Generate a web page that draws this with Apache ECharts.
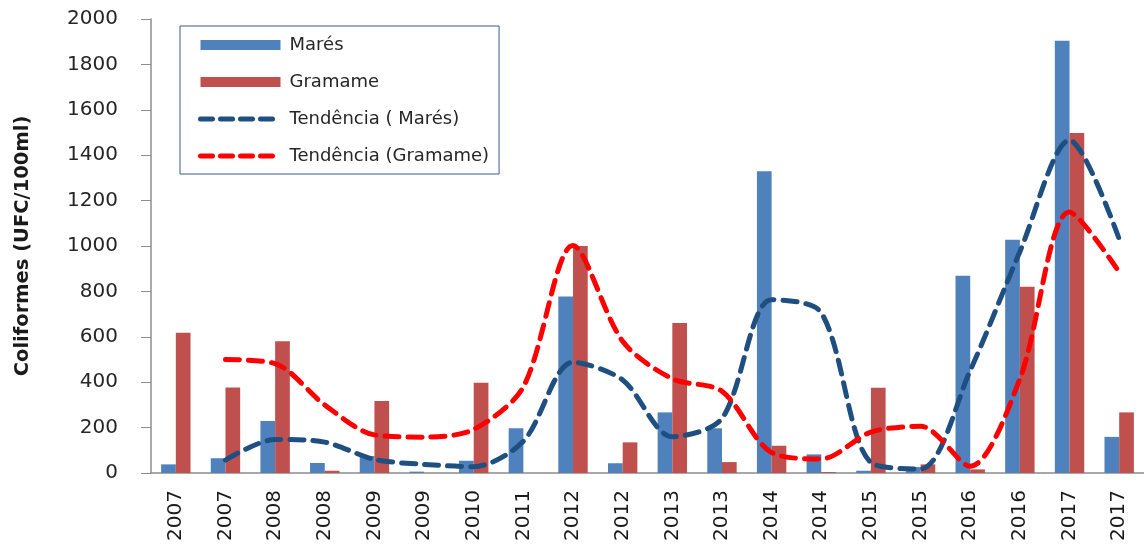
<!DOCTYPE html>
<html>
<head>
<meta charset="utf-8">
<script src="https://cdn.jsdelivr.net/npm/echarts@6/dist/echarts.min.js"></script>
<style>
  html, body { margin: 0; padding: 0; background: #fff; }
  #chart { width: 1144px; height: 545px; }
</style>
</head>
<body>
<div id="chart"></div>
<script>
// anos (categorias repetidas, duas coletas por ano)
const years = ['2007', '2007', '2008', '2008', '2009', '2009', '2010', '2011', '2012', '2012',
  '2013', '2013', '2014', '2014', '2015', '2015', '2016', '2016', '2017', '2017']

// coliformes (UFC/100ml)
const mares = [38, 65, 229, 44, 75, 6, 54, 197, 777, 43, 267, 197, 1329, 82, 10, 26, 869, 1028, 1904, 159]
const gramame = [618, 377, 580, 10, 317, 0, 398, 0, 1000, 135, 661, 48, 120, 4, 376, 38, 16, 821, 1498, 267]

// linhas de tendência
const trendMares = [null, 57, 148, 136, 60, 38, 28, 140, 488, 410, 160, 240, 763, 706, 46, 18, 452, 975, 1466, 1031]
const trendGramame = [null, 500, 482, 300, 168, 158, 192, 380, 1002, 580, 415, 360, 90, 62, 180, 206, 30, 415, 1150, 885]

const yTicks = { min: 0, max: 2000, interval: 200 }

const chart = echarts.init(document.getElementById('chart'))

const font = 'DejaVu Sans'
const dash = [14, 9]
const blueTrend = '#1f4e80'
const redTrend = '#ff0000'

chart.setOption({
  animation: false,
  textStyle: { fontFamily: font },
  legend: {
    orient: 'vertical',
    left: 180,
    top: 26,
    padding: [10, 10, 9, 18],
    borderColor: '#385d8a',
    borderWidth: 1,
    itemWidth: 80,
    itemHeight: 10,
    itemGap: 19,
    textStyle: { fontSize: 18, color: '#262626', fontFamily: font, padding: [0, 0, 0, 4] },
    data: [
      { name: 'Marés', icon: 'rect' },
      { name: 'Gramame', icon: 'rect' },
      {
        name: 'Tendência ( Marés)',
        itemStyle: { opacity: 0 },
        lineStyle: { color: blueTrend, width: 5, type: [12, 8], cap: 'round' }
      },
      {
        name: 'Tendência (Gramame)',
        itemStyle: { opacity: 0 },
        lineStyle: { color: redTrend, width: 5, type: [12, 8], cap: 'round' }
      }
    ]
  },
  grid: { left: 151, right: -2, top: 19, bottom: 72 },
  xAxis: {
    type: 'category',
    data: years,
    axisLine: { lineStyle: { color: '#8c8c8c', width: 1.5 } },
    axisTick: { show: false },
    axisLabel: { rotate: 90, fontSize: 20, color: '#1a1a1a', margin: 17, fontFamily: font }
  },
  yAxis: {
    type: 'value',
    min: yTicks.min,
    max: yTicks.max,
    interval: yTicks.interval,
    name: 'Coliformes (UFC/100ml)',
    nameLocation: 'middle',
    nameGap: 118,
    nameTextStyle: { fontSize: 19.5, fontWeight: 'bold', color: '#1a1a1a', fontFamily: font },
    axisLine: { show: true, lineStyle: { color: '#8c8c8c', width: 1.5 } },
    axisTick: { show: true, inside: false, length: 10, lineStyle: { color: '#8c8c8c' } },
    axisLabel: { fontSize: 20, color: '#262626', margin: 33, fontFamily: font, formatter: v => String(v) },
    splitLine: { show: false }
  },
  series: [
    {
      name: 'Marés', type: 'bar', data: mares, barWidth: 14.7, barGap: '0%',
      itemStyle: { color: '#4f81bd' }
    },
    {
      name: 'Gramame', type: 'bar', data: gramame, barWidth: 14.7, barGap: '0%',
      itemStyle: { color: '#c0504d' }
    },
    {
      name: 'Tendência ( Marés)', type: 'line', data: trendMares, smooth: 0.3,
      symbol: 'none', connectNulls: false, z: 5,
      itemStyle: { color: blueTrend },
      lineStyle: { color: blueTrend, width: 5, type: dash, cap: 'round' }
    },
    {
      name: 'Tendência (Gramame)', type: 'line', data: trendGramame, smooth: 0.3,
      symbol: 'none', connectNulls: false, z: 5,
      itemStyle: { color: redTrend },
      lineStyle: { color: redTrend, width: 5, type: dash, cap: 'round' }
    }
  ]
})

window.addEventListener('resize', () => chart.resize())
</script>
</body>
</html>
